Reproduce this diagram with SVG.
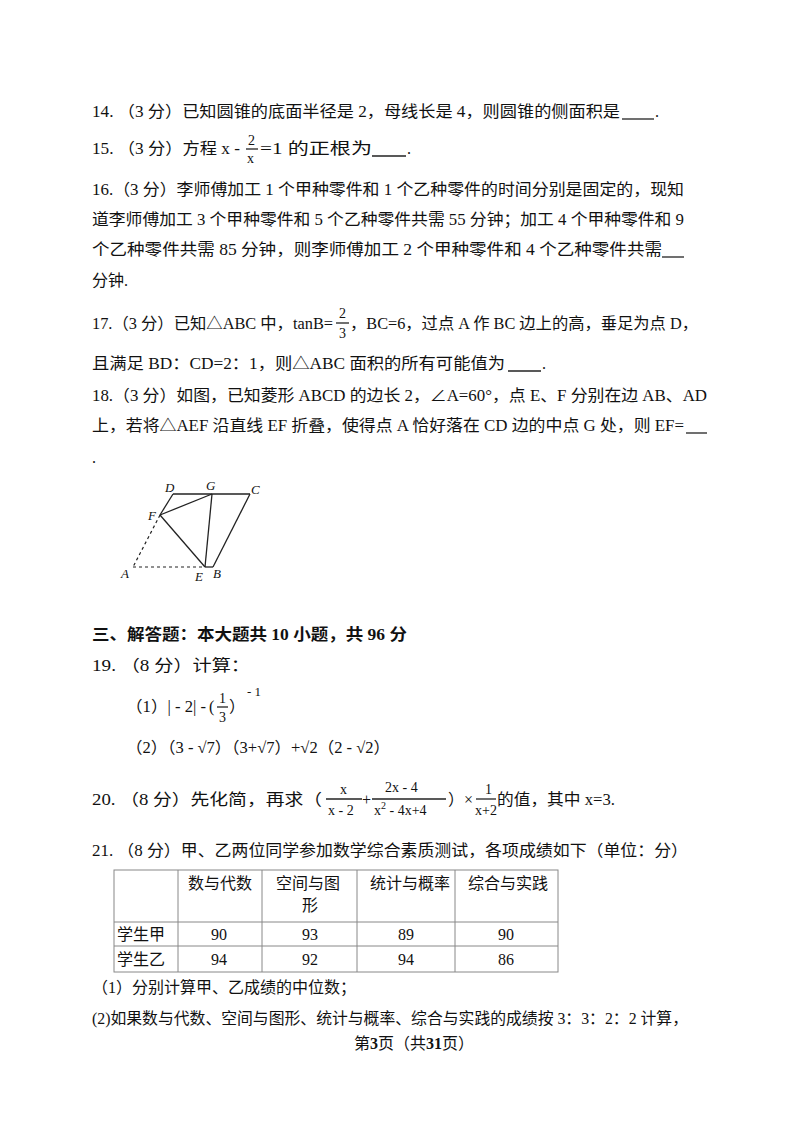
<svg xmlns="http://www.w3.org/2000/svg" width="800" height="1132" viewBox="0 0 800 1132">
<style>
text{font-family:"Liberation Serif","Noto Sans CJK SC",serif;font-size:16px;fill:#111}
.s{font-size:13px}
.m{font-family:"Liberation Serif",serif;font-size:14px}
.i{font-style:italic;font-size:13px}
.l{stroke:#222;stroke-width:1.3;fill:none}
.d{stroke:#222;stroke-width:1.2;stroke-dasharray:3 3;fill:none}
.t{stroke:#888;stroke-width:1;fill:none}
</style>
<rect width="800" height="1132" fill="#fff"/>
<g id="q14"><text x="92" y="117" textLength="528" lengthAdjust="spacingAndGlyphs">14. （3 分）已知圆锥的底面半径是 2，母线长是 4，则圆锥的侧面积是</text><line x1="622" y1="119" x2="654" y2="119" class="l"/><text x="655" y="117">.</text></g>
<g id="q15"><text x="92" y="154" textLength="148" lengthAdjust="spacingAndGlyphs">15. （3 分）方程 x - </text><text class="m" x="248" y="145">2</text><line x1="246" y1="149" x2="258" y2="149" class="l"/><text class="m" x="247" y="163">x</text><text x="260" y="154" textLength="112" lengthAdjust="spacingAndGlyphs">=1 的正根为</text><line x1="372" y1="156" x2="406" y2="156" class="l"/><text x="407" y="154">.</text></g>
<g id="q16"><text x="92" y="195" textLength="592" lengthAdjust="spacingAndGlyphs">16.（3 分）李师傅加工 1 个甲种零件和 1 个乙种零件的时间分别是固定的，现知</text>
<text x="92" y="225" textLength="592" lengthAdjust="spacingAndGlyphs">道李师傅加工 3 个甲种零件和 5 个乙种零件共需 55 分钟；加工 4 个甲种零件和 9</text>
<text x="92" y="255" textLength="570" lengthAdjust="spacingAndGlyphs">个乙种零件共需 85 分钟，则李师傅加工 2 个甲种零件和 4 个乙种零件共需</text><line x1="662" y1="257" x2="684" y2="257" class="l"/>
<text x="92" y="286">分钟.</text></g>
<g id="q17"><text x="92" y="329" textLength="241" lengthAdjust="spacingAndGlyphs">17.（3 分）已知△ABC 中，tanB=</text><text class="m" x="339" y="318">2</text><line x1="336" y1="323" x2="349" y2="323" class="l"/><text class="m" x="339" y="338">3</text><text x="350" y="329" textLength="348" lengthAdjust="spacingAndGlyphs">，BC=6，过点 A 作 BC 边上的高，垂足为点 D，</text>
<text x="92" y="369" textLength="413" lengthAdjust="spacingAndGlyphs">且满足 BD：CD=2：1，则△ABC 面积的所有可能值为</text><line x1="508" y1="371" x2="541" y2="371" class="l"/><text x="542" y="369">.</text></g>
<g id="q18"><text x="92" y="401" textLength="615" lengthAdjust="spacingAndGlyphs">18.（3 分）如图，已知菱形 ABCD 的边长 2，∠A=60°，点 E、F 分别在边 AB、AD</text>
<text x="92" y="431" textLength="592" lengthAdjust="spacingAndGlyphs">上，若将△AEF 沿直线 EF 折叠，使得点 A 恰好落在 CD 边的中点 G 处，则 EF=</text><line x1="686" y1="433" x2="707" y2="433" class="l"/>
<text x="92" y="463">.</text></g>
<g id="figure">
<line x1="173" y1="494" x2="250" y2="494" class="l"/>
<line x1="173" y1="494" x2="160" y2="515" class="l"/>
<line x1="160" y1="515" x2="133" y2="567" class="d"/>
<line x1="133" y1="567" x2="205" y2="567" class="d"/>
<line x1="205" y1="567" x2="213" y2="567" class="l"/>
<line x1="213" y1="567" x2="250" y2="494" class="l"/>
<line x1="160" y1="515" x2="212" y2="494" class="l"/>
<line x1="160" y1="515" x2="205" y2="567" class="l"/>
<line x1="212" y1="494" x2="205" y2="567" class="l"/>
<text class="i" x="165" y="492">D</text><text class="i" x="206" y="490">G</text><text class="i" x="251" y="494">C</text>
<text class="i" x="148" y="520">F</text><text class="i" x="121" y="578">A</text><text class="i" x="195" y="581">E</text><text class="i" x="213" y="578">B</text>
</g>
<g id="sec3"><text x="92" y="640" font-weight="bold" textLength="315" lengthAdjust="spacingAndGlyphs">三、解答题：本大题共 10 小题，共 96 分</text></g>
<g id="q19"><text x="92" y="671" textLength="158" lengthAdjust="spacingAndGlyphs">19. （8 分）计算：</text>
<text x="126" y="712" textLength="80" lengthAdjust="spacingAndGlyphs">（1）| - 2| - </text><text x="209" y="712">(</text><text class="m" x="219" y="703">1</text><line x1="217" y1="707" x2="228" y2="707" class="l"/><text class="m" x="219" y="722">3</text><text x="229" y="712">）</text><text class="s" x="247" y="696">- 1</text>
<text x="126" y="753" textLength="264" lengthAdjust="spacingAndGlyphs">（2）（3 - √7）（3+√7）+√2（2 - √2）</text></g>
<g id="q20"><text x="92" y="805" textLength="230" lengthAdjust="spacingAndGlyphs">20. （8 分）先化简，再求（</text>
<text class="m" x="340" y="794">x</text><line x1="326" y1="799" x2="362" y2="799" class="l"/><text class="m" x="328" y="815">x - 2</text>
<text x="362" y="805">+</text>
<text class="m" x="385" y="792">2x - 4</text><line x1="372" y1="799" x2="446" y2="799" class="l"/><text class="m" x="374" y="815">x<tspan font-size="10" dy="-6">2</tspan><tspan dy="6"> - 4x+4</tspan></text>
<text x="448" y="805">）×</text><text class="m" x="485" y="794">1</text><line x1="476" y1="799" x2="496" y2="799" class="l"/><text class="m" x="475" y="815">x+2</text><text x="497" y="805" textLength="118" lengthAdjust="spacingAndGlyphs">的值，其中 x=3.</text></g>
<g id="q21"><text x="92" y="856" textLength="596" lengthAdjust="spacingAndGlyphs">21. （8 分）甲、乙两位同学参加数学综合素质测试，各项成绩如下（单位：分）</text>
<g id="table">
<rect x="114" y="870" width="444" height="102" class="t"/>
<line x1="114" y1="922" x2="558" y2="922" class="t"/><line x1="114" y1="946" x2="558" y2="946" class="t"/>
<line x1="178" y1="870" x2="178" y2="972" class="t"/><line x1="262" y1="870" x2="262" y2="972" class="t"/>
<line x1="357" y1="870" x2="357" y2="972" class="t"/><line x1="455" y1="870" x2="455" y2="972" class="t"/>
<text x="188" y="889">数与代数</text><text x="276" y="889">空间与图</text><text x="302" y="911">形</text><text x="370" y="889">统计与概率</text><text x="468" y="889">综合与实践</text>
<text x="117" y="940">学生甲</text><text x="211" y="940">90</text><text x="302" y="940">93</text><text x="398" y="940">89</text><text x="498" y="940">90</text>
<text x="117" y="965">学生乙</text><text x="211" y="965">94</text><text x="302" y="965">92</text><text x="398" y="965">94</text><text x="498" y="965">86</text>
</g>
<text x="92" y="993">（1）分别计算甲、乙成绩的中位数；</text>
<text x="92" y="1024" textLength="596" lengthAdjust="spacingAndGlyphs">(2)如果数与代数、空间与图形、统计与概率、综合与实践的成绩按 3：3：2：2 计算，</text></g>
<g id="footer"><text x="354" y="1049" font-size="13">第<tspan font-weight="bold">3</tspan>页（共<tspan font-weight="bold">31</tspan>页）</text></g>
</svg>
